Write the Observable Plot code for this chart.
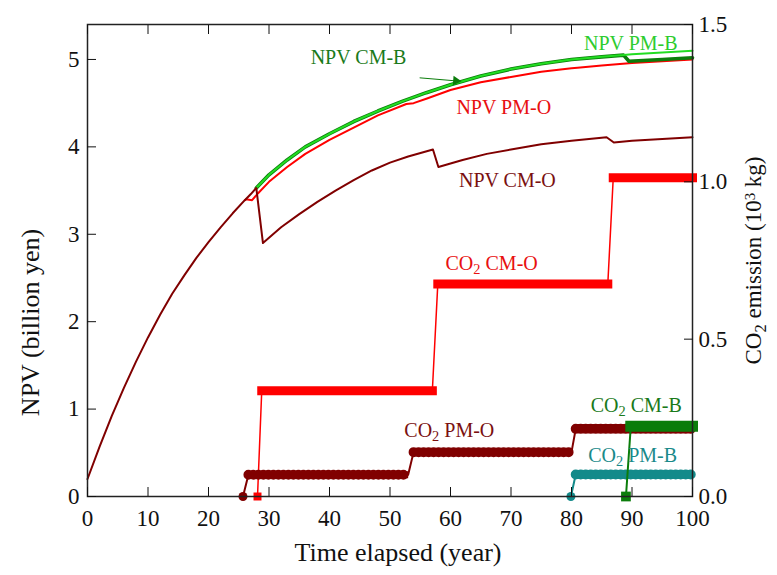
<!DOCTYPE html>
<html>
<head>
<meta charset="utf-8">
<script src="https://cdn.jsdelivr.net/npm/d3@7"></script>
<script src="https://cdn.jsdelivr.net/npm/@observablehq/plot@0.6"></script>
<style>
  html, body { margin: 0; padding: 0; background: #fff; }
  #chart { width: 777px; height: 575px; }
</style>
</head>
<body>
<div id="chart"></div>
<script>
// ---------- data ----------
// shared early NPV path (billion yen)
const baseT = [0, 2, 4, 6, 8, 10, 12, 14, 16, 18, 20, 22, 24, 26];
const baseV = [0.2, 0.57, 0.92, 1.24, 1.54, 1.82, 2.08, 2.32, 2.53, 2.73, 2.91, 3.08, 3.24, 3.39];

const npvCmOT = [27, 27.9, 29.0, 32, 35, 38, 41, 44, 47, 50, 53, 57.1, 58.0, 62, 66, 70, 75, 80, 85.8, 87, 90, 95, 100];
const npvCmOV = [3.46, 3.53, 2.90, 3.08, 3.23, 3.37, 3.50, 3.62, 3.73, 3.82, 3.89, 3.97, 3.77, 3.85, 3.92, 3.97, 4.03, 4.07, 4.11, 4.05, 4.07, 4.09, 4.11];

const npvPmOT = [26, 26.2, 27.2, 28.2, 30, 33, 36, 40, 44, 48, 52.7, 53.9, 56, 60, 65, 70, 75, 80, 81, 85, 90, 95, 100];
const npvPmOV = [3.39, 3.40, 3.39, 3.47, 3.60, 3.77, 3.92, 4.08, 4.22, 4.36, 4.49, 4.50, 4.55, 4.65, 4.74, 4.80, 4.86, 4.90, 4.905, 4.93, 4.96, 4.98, 5.00];

const npvPmBT = [27.9, 30, 33, 36, 40, 44, 48, 52, 56, 60, 65, 70, 75, 80, 85, 88.6, 90, 95, 100];
const npvPmBV = [3.53, 3.68, 3.85, 4.00, 4.15, 4.29, 4.41, 4.52, 4.62, 4.71, 4.81, 4.89, 4.95, 5.00, 5.03, 5.05, 5.06, 5.08, 5.10];

const npvCmBT = [27.9, 30, 33, 36, 40, 44, 48, 52, 56, 60, 65, 70, 75, 80, 85, 88.6, 89.5, 95, 100];
const npvCmBV = [3.53, 3.68, 3.85, 4.00, 4.15, 4.29, 4.41, 4.52, 4.62, 4.71, 4.81, 4.89, 4.95, 5.00, 5.03, 5.05, 4.98, 5.00, 5.02];

// CO2 emission (10^3 kg)
const co2CmOT = [28.1, 28.8, 57.0, 57.9, 86.0, 86.9, 100];
const co2CmOV = [0, 0.336, 0.336, 0.675, 0.675, 1.013, 1.013];
const co2PmOT = [25.7, 26.6, 53.0, 53.9, 80.0, 80.7, 100];
const co2PmOV = [0, 0.069, 0.069, 0.141, 0.141, 0.215, 0.215];
const co2PmBT = [79.9, 80.7, 100];
const co2PmBV = [0, 0.07, 0.07];
const co2CmBT = [89.0, 89.8, 100];
const co2CmBV = [0, 0.223, 0.223];

// axes
const xTicks = [0, 10, 20, 30, 40, 50, 60, 70, 80, 90, 100];
const npvTicks = [0, 1, 2, 3, 4, 5];
const co2Ticks = [0, 0.5, 1.0, 1.5];
const npvDomain = [0, 5.4];
const co2Max = 1.5;

// annotation labels (positions in time / NPV units)
const labelText = ["NPV CM-B", "NPV PM-B", "NPV PM-O", "NPV CM-O", "CO2 CM-O", "CO2 PM-O", "CO2 CM-B", "CO2 PM-B"];
const labelT    = [44.8, 89.8, 68.8, 69.4, 66.8, 59.8, 90.7, 90.1];
const labelY    = [5.02, 5.18, 4.45, 3.61, 2.66, 0.754, 1.04, 0.47];
const labelCol  = ["#1a7a1a", "#2ecc2e", "#e81010", "#7a1010", "#e81010", "#7a1010", "#1a7a1a", "#1a8a8a"];
const arrowFrom = [54.9, 4.79];
const arrowTo   = [60.9, 4.755];

// ---------- build ----------
const K = npvDomain[1] / co2Max;
const C = {
  darkRed: "#800000", red: "#ff0000", lightGreen: "#22dd22", darkGreen: "#0b7d0b", teal: "#138a8a"
};
const rows = (ts, vs) => ts.map((t, i) => ({t, v: vs[i]}));
const co2Rows = (ts, vs) => ts.map((t, i) => ({t, v: vs[i] * K}));
const plateaus = (ts, vs) => {
  const out = [];
  for (let i = 0; i < ts.length - 1; i++) if (vs[i] === vs[i + 1]) out.push({t1: ts[i], t2: ts[i + 1], v: vs[i] * K});
  return out;
};
const base = rows(baseT, baseV);

const labels = labelText.map((s, i) => ({s, t: labelT[i], y: labelY[i], c: labelCol[i]}));
const ang = Math.atan2(-(arrowTo[1] - arrowFrom[1]) * 87.4, (arrowTo[0] - arrowFrom[0]) * 6.05) * 180 / Math.PI;

const font = "'Liberation Serif', 'Times New Roman', Times, serif";

const chainMarks = (ts, vs, color) => [
  Plot.line(co2Rows(ts, vs), {x: "t", y: "v", stroke: color, strokeWidth: 2}),
  Plot.link(plateaus(ts, vs), {x1: "t1", x2: "t2", y1: "v", y2: "v", stroke: color, strokeWidth: 7}),
  Plot.link(plateaus(ts, vs), {x1: "t1", x2: "t2", y1: "v", y2: "v", stroke: color, strokeWidth: 10, strokeLinecap: "round", strokeDasharray: "0 5"}),
  Plot.dot(co2Rows(ts, vs).slice(0, 1), {x: "t", y: "v", r: 4.5, fill: color, stroke: "none"})
];
const barMarks = (ts, vs, color, w, lw) => [
  Plot.line(co2Rows(ts, vs), {x: "t", y: "v", stroke: color, strokeWidth: lw}),
  Plot.link(plateaus(ts, vs), {x1: "t1", x2: "t2", y1: "v", y2: "v", stroke: color, strokeWidth: w, strokeLinecap: "square"}),
  Plot.dot(co2Rows(ts, vs).slice(0, 1), {x: "t", y: "v", symbol: "square", r: w * 0.5, fill: color, stroke: "none"})
];

const svg = Plot.plot({
  width: 777,
  height: 575,
  marginLeft: 87,
  marginRight: 85,
  marginTop: 24,
  marginBottom: 79,
  style: {fontFamily: font, fontSize: "23px", background: "#fff", color: "#111", overflow: "visible"},
  x: {domain: [0, 100]},
  y: {domain: npvDomain},
  marks: [
    // NPV curves
    Plot.line(rows(npvPmOT, npvPmOV), {x: "t", y: "v", stroke: C.red, strokeWidth: 2}),
    Plot.line(rows(npvCmBT, npvCmBV), {x: "t", y: "v", stroke: C.darkGreen, strokeWidth: 3.6}),
    Plot.line(rows(npvPmBT, npvPmBV), {x: "t", y: "v", stroke: C.lightGreen, strokeWidth: 2}),
    Plot.line(base.concat(rows(npvCmOT, npvCmOV)), {x: "t", y: "v", stroke: C.darkRed, strokeWidth: 2}),
    // CO2 series
    ...barMarks(co2CmOT, co2CmOV, C.red, 9, 1.5),
    ...chainMarks(co2PmOT, co2PmOV, C.darkRed),
    ...chainMarks(co2PmBT, co2PmBV, C.teal),
    ...barMarks(co2CmBT, co2CmBV, C.darkGreen, 11, 2),
    // arrow for NPV CM-B
    Plot.link([{}], {x1: () => arrowFrom[0], y1: () => arrowFrom[1], x2: () => arrowTo[0], y2: () => arrowTo[1], stroke: C.darkGreen, strokeWidth: 1}),
    Plot.dot([{}], {x: () => arrowTo[0], y: () => arrowTo[1], symbol: "triangle", r: 3.6, fill: C.darkGreen, stroke: "none", rotate: 90 + ang}),
    // labels
    Plot.text(labels, {x: "t", y: "y", text: "s", fill: "c", fontSize: 20, textAnchor: "middle", lineAnchor: "middle"}),
    // frame and axes
    Plot.frame({stroke: "#222", strokeWidth: 1.5}),
    Plot.axisX({ticks: xTicks, tickSize: -9, tickPadding: 22, label: null, tickFormat: d => String(d), fontSize: 23}),
    Plot.axisX({anchor: "top", ticks: xTicks, tickSize: -9, label: null, tickFormat: () => ""}),
    Plot.axisY({ticks: npvTicks, tickSize: -9, tickPadding: 17, label: null, tickFormat: d => String(d), fontSize: 23}),
    Plot.axisY(co2Ticks.map(v => v * K), {anchor: "right", tickSize: -9, tickPadding: 15, label: null, tickFormat: d => (d / K).toFixed(1), fontSize: 23}),
    // axis titles
    Plot.text(["NPV (billion yen)"], {frameAnchor: "left", textAnchor: "middle", lineAnchor: "middle", rotate: -90, dx: -57, dy: 62, fontSize: 26, fill: "#111"}),
    Plot.text(["CO2 emission (10^3 kg)"], {frameAnchor: "right", textAnchor: "middle", lineAnchor: "middle", rotate: -90, dx: 61, dy: 0, fontSize: 23, fill: "#111"}),
    Plot.text(["Time elapsed (year)"], {frameAnchor: "bottom", textAnchor: "middle", lineAnchor: "middle", dy: 56, dx: 8, fontSize: 26, fill: "#111"})
  ]
});

// sub/superscripts in CO2 labels
svg.querySelectorAll("text").forEach(t => {
  if (t.children.length === 0) {
    const s = t.textContent;
    if (s.includes("CO2") || s.includes("^3")) {
      const esc = x => x.replace(/&/g, "&amp;").replace(/</g, "&lt;");
      let h = esc(s)
        .replace("CO2", 'CO<tspan baseline-shift="-0.28em" font-size="0.72em">2</tspan>')
        .replace("10^3", '10<tspan baseline-shift="0.42em" font-size="0.65em">3</tspan>');
      t.innerHTML = h;
    }
  }
});

document.getElementById("chart").appendChild(svg);
</script>
</body>
</html>
